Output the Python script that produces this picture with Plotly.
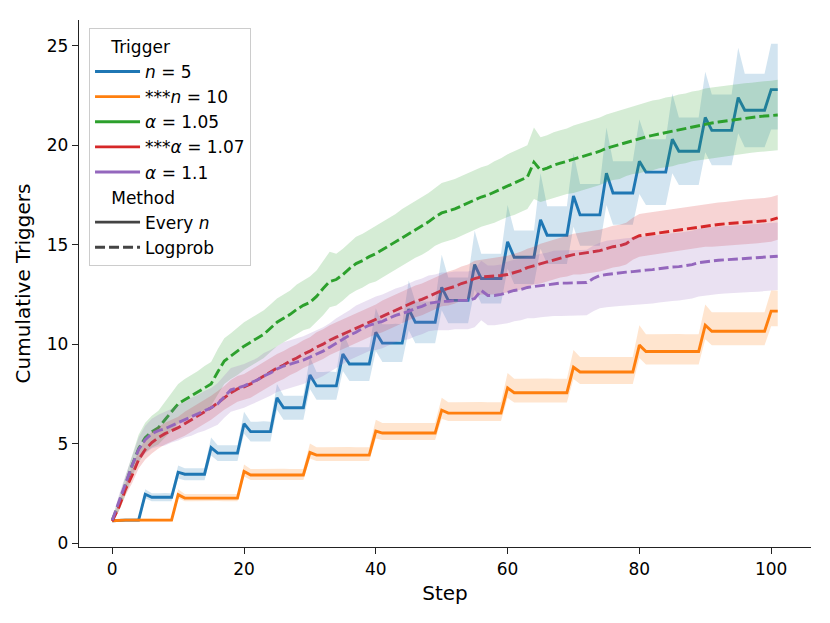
import plotly.graph_objects as go

steps = list(range(102))

# n = 5 (Every n)
n5_mean = [1.12, 1.15, 1.15, 1.15, 1.15, 2.45, 2.3, 2.3, 2.3, 2.3,
           3.56, 3.46, 3.46, 3.46, 3.46, 4.8, 4.52, 4.52, 4.52, 4.52,
           6.0, 5.6, 5.6, 5.6, 5.6, 7.3, 6.8, 6.8, 6.8, 6.8,
           8.45, 7.9, 7.9, 7.9, 7.9, 9.5, 9.0, 9.0, 9.0, 9.0,
           10.6, 10.05, 10.05, 10.05, 10.05, 11.76, 11.1, 11.1, 11.1, 11.1,
           12.86, 12.2, 12.2, 12.2, 12.2, 14.0, 13.3, 13.3, 13.3, 13.3,
           15.15, 14.37, 14.37, 14.37, 14.37, 16.25, 15.48, 15.48, 15.48, 15.48,
           17.45, 16.5, 16.5, 16.5, 16.5, 18.6, 17.6, 17.6, 17.6, 17.6,
           19.2, 18.65, 18.65, 18.65, 18.65, 20.3, 19.7, 19.7, 19.7, 19.7,
           21.4, 20.75, 20.75, 20.75, 20.75, 22.4, 21.76, 21.76, 21.76, 21.76,
           22.8, 22.8]
n5_lo = [1.08, 1.08, 1.07, 1.07, 1.07, 2.25, 2.1, 2.1, 2.1, 2.1,
         3.25, 3.16, 3.16, 3.16, 3.16, 4.4, 4.12, 4.12, 4.12, 4.12,
         5.5, 5.1, 5.1, 5.1, 5.1, 6.7, 6.2, 6.2, 6.2, 6.2,
         7.75, 7.2, 7.2, 7.2, 7.2, 8.65, 8.15, 8.15, 8.15, 8.15,
         9.65, 9.1, 9.1, 9.1, 9.1, 10.7, 10.05, 10.05, 10.05, 10.05,
         11.7, 11.05, 11.05, 11.05, 11.05, 12.75, 12.05, 12.05, 12.05, 12.05,
         13.8, 13.02, 13.02, 13.02, 13.02, 14.8, 14.03, 14.03, 14.03, 14.03,
         15.9, 14.95, 14.95, 14.95, 14.95, 17.0, 16.0, 16.0, 16.0, 16.0,
         17.55, 17.0, 17.0, 17.0, 17.0, 18.6, 18.0, 18.0, 18.0, 18.0,
         19.65, 19.0, 19.0, 19.0, 19.0, 20.6, 19.9, 19.9, 19.9, 19.9,
         20.8, 20.8]
n5_hi = [1.18, 1.22, 1.22, 1.23, 1.23, 2.7, 2.5, 2.5, 2.52, 2.5,
         3.9, 3.76, 3.77, 3.76, 3.76, 5.3, 4.92, 4.92, 4.93, 4.92,
         6.6, 6.1, 6.1, 6.12, 6.1, 8.0, 7.4, 7.4, 7.42, 7.4,
         9.35, 8.6, 8.6, 8.62, 8.6, 10.6, 9.85, 9.85, 9.86, 9.85,
         11.8, 11.0, 11.0, 11.02, 11.0, 13.2, 12.15, 12.15, 12.16, 12.15,
         14.5, 13.35, 13.35, 13.36, 13.35, 15.7, 14.55, 14.55, 14.56, 14.55,
         17.0, 15.72, 15.72, 15.73, 15.72, 18.6, 16.93, 16.93, 16.94, 16.93,
         19.6, 18.05, 18.05, 18.06, 18.05, 20.9, 19.2, 19.2, 19.21, 19.2,
         21.3, 20.3, 20.3, 20.31, 20.3, 22.6, 21.4, 21.4, 21.41, 21.4,
         23.7, 22.55, 22.55, 22.56, 22.55, 24.9, 23.6, 23.6, 23.61, 23.6,
         25.1, 25.1]

# n = 10 (Every n)
n10_mean = [1.12, 1.15, 1.15, 1.15, 1.15, 1.15, 1.15, 1.15, 1.15, 1.15,
            2.43, 2.26, 2.26, 2.26, 2.26, 2.26, 2.26, 2.26, 2.26, 2.26,
            3.6, 3.42, 3.42, 3.42, 3.42, 3.42, 3.42, 3.42, 3.42, 3.42,
            4.55, 4.42, 4.42, 4.42, 4.42, 4.42, 4.42, 4.42, 4.42, 4.42,
            5.63, 5.53, 5.53, 5.53, 5.53, 5.53, 5.53, 5.53, 5.53, 5.53,
            6.68, 6.53, 6.53, 6.53, 6.53, 6.53, 6.53, 6.53, 6.53, 6.53,
            7.8, 7.56, 7.56, 7.56, 7.56, 7.56, 7.56, 7.56, 7.56, 7.56,
            8.84, 8.6, 8.6, 8.6, 8.6, 8.6, 8.6, 8.6, 8.6, 8.6,
            9.95, 9.63, 9.63, 9.63, 9.63, 9.63, 9.63, 9.63, 9.63, 9.63,
            10.95, 10.65, 10.65, 10.65, 10.65, 10.65, 10.65, 10.65, 10.65, 10.65,
            11.66, 11.66]
n10_lo = [1.08, 1.1, 1.1, 1.09, 1.09, 1.09, 1.09, 1.09, 1.09, 1.09,
          2.25, 2.1, 2.1, 2.11, 2.1, 2.1, 2.11, 2.1, 2.1, 2.1,
          3.35, 3.17, 3.17, 3.16, 3.17, 3.17, 3.17, 3.16, 3.17, 3.17,
          4.25, 4.12, 4.12, 4.12, 4.11, 4.12, 4.12, 4.12, 4.11, 4.12,
          5.25, 5.18, 5.18, 5.18, 5.17, 5.18, 5.18, 5.18, 5.17, 5.18,
          6.25, 6.13, 6.13, 6.12, 6.13, 6.13, 6.13, 6.12, 6.13, 6.13,
          7.3, 7.06, 7.06, 7.05, 7.06, 7.06, 7.06, 7.05, 7.06, 7.06,
          8.25, 8.0, 8.0, 7.99, 8.0, 8.0, 8.0, 7.99, 8.0, 8.0,
          9.3, 8.98, 8.98, 8.97, 8.98, 8.98, 8.98, 8.97, 8.98, 8.98,
          10.25, 9.95, 9.95, 9.94, 9.95, 9.95, 9.95, 9.94, 9.95, 9.95,
          10.9, 10.9]
n10_hi = [1.16, 1.22, 1.22, 1.23, 1.22, 1.22, 1.23, 1.22, 1.22, 1.22,
          2.7, 2.46, 2.46, 2.47, 2.46, 2.46, 2.47, 2.46, 2.46, 2.46,
          3.95, 3.72, 3.72, 3.73, 3.72, 3.72, 3.73, 3.72, 3.72, 3.72,
          5.0, 4.82, 4.82, 4.83, 4.82, 4.82, 4.83, 4.82, 4.82, 4.82,
          6.2, 6.03, 6.03, 6.04, 6.03, 6.03, 6.04, 6.03, 6.03, 6.03,
          7.3, 7.08, 7.08, 7.09, 7.08, 7.08, 7.09, 7.08, 7.08, 7.08,
          8.55, 8.26, 8.26, 8.27, 8.26, 8.26, 8.27, 8.26, 8.26, 8.26,
          9.7, 9.35, 9.35, 9.36, 9.35, 9.35, 9.36, 9.35, 9.35, 9.35,
          10.95, 10.5, 10.5, 10.51, 10.5, 10.5, 10.51, 10.5, 10.5, 10.5,
          12.0, 11.6, 11.6, 11.61, 11.6, 11.6, 11.61, 11.6, 11.6, 11.6,
          12.7, 12.7]

# alpha = 1.05 (Logprob)
a105_mean = [1.15, 1.95, 2.9, 3.9, 4.75, 5.3, 5.6, 5.8, 6.2, 6.6,
             7.0, 7.2, 7.4, 7.6, 7.8, 8.0, 8.6, 9.15, 9.4, 9.65,
             9.9, 10.1, 10.3, 10.5, 10.8, 11.1, 11.3, 11.5, 11.75, 11.95,
             12.1, 12.4, 12.8, 13.15, 13.25, 13.5, 13.8, 14.05, 14.2, 14.4,
             14.55, 14.75, 14.95, 15.15, 15.35, 15.55, 15.75, 15.95, 16.15, 16.4,
             16.6, 16.7, 16.8, 16.95, 17.1, 17.25, 17.4, 17.5, 17.65, 17.8,
             17.95, 18.1, 18.25, 18.4, 19.15, 18.75, 18.85, 19.0, 19.1, 19.2,
             19.3, 19.4, 19.5, 19.6, 19.7, 19.85, 19.95, 20.05, 20.15, 20.25,
             20.35, 20.42, 20.5, 20.57, 20.64, 20.7, 20.77, 20.85, 20.92, 21.0,
             21.07, 21.12, 21.17, 21.22, 21.27, 21.32, 21.36, 21.4, 21.44, 21.47,
             21.5, 21.52]
a105_lo = [1.07, 1.6, 2.4, 3.3, 4.05, 4.55, 4.8, 4.95, 5.3, 5.65,
           6.0, 6.15, 6.35, 6.55, 6.7, 6.9, 7.45, 8.0, 8.25, 8.45,
           8.7, 8.9, 9.1, 9.3, 9.6, 9.9, 10.1, 10.3, 10.5, 10.7,
           10.8, 11.1, 11.45, 11.85, 11.95, 12.2, 12.5, 12.7, 12.85, 13.05,
           13.15, 13.35, 13.55, 13.75, 13.95, 14.15, 14.35, 14.5, 14.7, 14.95,
           15.1, 15.2, 15.3, 15.45, 15.6, 15.75, 15.9, 16.0, 16.1, 16.25,
           16.4, 16.5, 16.65, 16.8, 17.3, 17.15, 17.25, 17.35, 17.45, 17.55,
           17.6, 17.7, 17.8, 17.9, 18.0, 18.15, 18.25, 18.3, 18.45, 18.55,
           18.6, 18.7, 18.75, 18.85, 18.9, 18.95, 19.05, 19.1, 19.2, 19.25,
           19.3, 19.35, 19.4, 19.45, 19.5, 19.55, 19.6, 19.62, 19.66, 19.7,
           19.72, 19.75]
a105_hi = [1.23, 2.3, 3.4, 4.5, 5.45, 6.05, 6.4, 6.65, 7.1, 7.55,
           8.0, 8.25, 8.45, 8.65, 8.9, 9.1, 9.75, 10.3, 10.55, 10.85,
           11.1, 11.3, 11.5, 11.7, 12.0, 12.3, 12.5, 12.7, 13.0, 13.2,
           13.4, 13.7, 14.15, 14.65, 14.55, 14.8, 15.1, 15.4, 15.55, 15.75,
           15.95, 16.15, 16.35, 16.55, 16.8, 17.0, 17.2, 17.4, 17.6, 17.85,
           18.1, 18.2, 18.3, 18.45, 18.6, 18.75, 18.9, 19.0, 19.2, 19.35,
           19.55, 19.7, 19.85, 20.0, 20.9, 20.4, 20.5, 20.65, 20.75, 20.85,
           21.0, 21.1, 21.2, 21.3, 21.4, 21.55, 21.65, 21.75, 21.85, 21.95,
           22.05, 22.15, 22.25, 22.3, 22.4, 22.45, 22.55, 22.6, 22.7, 22.75,
           22.85, 22.9, 22.95, 23.0, 23.05, 23.1, 23.12, 23.15, 23.2, 23.22,
           23.25, 23.3]

# alpha = 1.07 (Logprob)
a107_mean = [1.1, 1.8, 2.7, 3.4, 4.2, 4.7, 5.05, 5.3, 5.5, 5.65,
             5.8, 6.0, 6.2, 6.4, 6.6, 6.8, 7.05, 7.3, 7.55, 7.75,
             7.85, 8.0, 8.2, 8.4, 8.6, 8.8, 8.95, 9.15, 9.3, 9.5,
             9.65, 9.85, 10.0, 10.2, 10.35, 10.5, 10.65, 10.8, 10.95, 11.1,
             11.25, 11.4, 11.55, 11.7, 11.85, 12.0, 12.15, 12.25, 12.4, 12.55,
             12.7, 12.8, 12.9, 13.05, 13.15, 13.3, 13.38, 13.4, 13.42, 13.45,
             13.5, 13.6, 13.7, 13.85, 13.95, 14.05, 14.15, 14.25, 14.35, 14.42,
             14.5, 14.55, 14.6, 14.65, 14.7, 14.8, 14.9, 14.95, 15.05, 15.3,
             15.45, 15.5, 15.55, 15.6, 15.65, 15.7, 15.75, 15.8, 15.85, 15.9,
             15.95, 16.0, 16.02, 16.05, 16.07, 16.1, 16.12, 16.15, 16.18, 16.2,
             16.25, 16.35]
a107_lo = [1.05, 1.6, 2.4, 3.0, 3.75, 4.2, 4.5, 4.75, 4.95, 5.1,
           5.25, 5.4, 5.6, 5.8, 6.0, 6.2, 6.45, 6.7, 6.9, 7.1,
           7.2, 7.3, 7.5, 7.7, 7.9, 8.1, 8.25, 8.45, 8.6, 8.8,
           8.95, 9.1, 9.25, 9.45, 9.6, 9.75, 9.9, 10.05, 10.2, 10.35,
           10.5, 10.6, 10.75, 10.9, 11.05, 11.2, 11.35, 11.45, 11.6, 11.75,
           11.9, 11.95, 12.05, 12.2, 12.3, 12.4, 12.5, 12.5, 12.5, 12.55,
           12.6, 12.65, 12.75, 12.9, 13.0, 13.05, 13.15, 13.25, 13.35, 13.4,
           13.5, 13.5, 13.55, 13.6, 13.65, 13.75, 13.85, 13.9, 14.0, 14.25,
           14.4, 14.45, 14.5, 14.55, 14.6, 14.65, 14.7, 14.75, 14.8, 14.85,
           14.9, 14.9, 14.92, 14.95, 14.97, 15.0, 15.0, 15.05, 15.08, 15.1,
           15.15, 15.25]
a107_hi = [1.15, 2.0, 3.0, 3.8, 4.65, 5.2, 5.6, 5.85, 6.05, 6.2,
           6.35, 6.6, 6.8, 7.0, 7.2, 7.4, 7.65, 7.9, 8.2, 8.4,
           8.5, 8.7, 8.9, 9.1, 9.3, 9.5, 9.65, 9.85, 10.0, 10.2,
           10.35, 10.6, 10.75, 10.95, 11.1, 11.25, 11.4, 11.55, 11.7, 11.85,
           12.0, 12.2, 12.35, 12.5, 12.65, 12.8, 12.95, 13.05, 13.2, 13.35,
           13.5, 13.65, 13.75, 13.9, 14.0, 14.2, 14.25, 14.3, 14.35, 14.4,
           14.45, 14.55, 14.65, 14.8, 14.9, 15.05, 15.15, 15.25, 15.35, 15.45,
           15.55, 15.6, 15.65, 15.7, 15.75, 15.85, 15.95, 16.0, 16.1, 16.35,
           16.55, 16.6, 16.65, 16.7, 16.75, 16.8, 16.85, 16.9, 16.95, 17.0,
           17.05, 17.1, 17.12, 17.15, 17.2, 17.25, 17.27, 17.3, 17.32, 17.35,
           17.4, 17.5]

# alpha = 1.1 (Logprob)
a11_mean = [1.15, 2.1, 3.0, 3.9, 4.7, 5.2, 5.5, 5.65, 5.75, 5.9,
            6.05, 6.2, 6.35, 6.5, 6.65, 6.8, 7.0, 7.35, 7.7, 7.8,
            7.9, 8.05, 8.2, 8.4, 8.55, 8.75, 8.9, 9.0, 9.1, 9.2,
            9.35, 9.5, 9.65, 9.85, 10.05, 10.25, 10.45, 10.6, 10.8, 10.95,
            11.05, 11.15, 11.3, 11.45, 11.55, 11.65, 11.8, 11.9, 12.05, 12.1,
            12.15, 12.15, 12.2, 12.2, 12.2, 12.3, 12.7, 12.45, 12.45, 12.5,
            12.6, 12.7, 12.75, 12.85, 12.9, 12.95, 13.0, 13.05, 13.07, 13.07,
            13.07, 13.07, 13.1, 13.3, 13.45, 13.5, 13.55, 13.6, 13.62, 13.65,
            13.7, 13.72, 13.75, 13.8, 13.85, 13.88, 13.9, 13.95, 14.0, 14.1,
            14.15, 14.2, 14.22, 14.24, 14.26, 14.28, 14.3, 14.32, 14.34, 14.36,
            14.38, 14.42]
a11_lo = [1.08, 1.8, 2.6, 3.4, 4.1, 4.5, 4.75, 4.85, 4.9, 5.05,
          5.15, 5.3, 5.4, 5.55, 5.65, 5.8, 5.95, 6.3, 6.6, 6.7,
          6.8, 6.95, 7.1, 7.25, 7.4, 7.6, 7.7, 7.8, 7.9, 8.0,
          8.15, 8.25, 8.4, 8.6, 8.8, 9.0, 9.2, 9.35, 9.5, 9.65,
          9.7, 9.8, 9.95, 10.1, 10.2, 10.25, 10.4, 10.5, 10.65, 10.7,
          10.7, 10.7, 10.75, 10.75, 10.75, 10.85, 11.2, 10.95, 10.95, 11.0,
          11.05, 11.15, 11.2, 11.3, 11.3, 11.35, 11.4, 11.42, 11.42, 11.42,
          11.42, 11.42, 11.45, 11.65, 11.8, 11.85, 11.9, 11.92, 11.95, 11.97,
          12.0, 12.02, 12.05, 12.1, 12.15, 12.17, 12.2, 12.25, 12.3, 12.4,
          12.45, 12.5, 12.52, 12.55, 12.56, 12.58, 12.6, 12.62, 12.64, 12.66,
          12.68, 12.72]
a11_hi = [1.22, 2.4, 3.4, 4.4, 5.3, 5.9, 6.25, 6.45, 6.6, 6.75,
          6.95, 7.1, 7.3, 7.45, 7.65, 7.8, 8.05, 8.4, 8.8, 8.9,
          9.0, 9.15, 9.3, 9.55, 9.7, 9.9, 10.1, 10.2, 10.3, 10.4,
          10.55, 10.7, 10.85, 11.05, 11.3, 11.5, 11.7, 11.95, 12.1, 12.25,
          12.4, 12.5, 12.65, 12.8, 12.9, 13.05, 13.2, 13.3, 13.45, 13.5,
          13.6, 13.6, 13.65, 13.65, 13.65, 13.75, 14.2, 13.95, 13.95, 14.0,
          14.15, 14.25, 14.3, 14.4, 14.45, 14.55, 14.6, 14.7, 14.72, 14.72,
          14.72, 14.72, 14.75, 14.95, 15.1, 15.2, 15.25, 15.3, 15.32, 15.35,
          15.4, 15.42, 15.45, 15.5, 15.55, 15.58, 15.6, 15.65, 15.7, 15.8,
          15.85, 15.9, 15.92, 15.94, 15.96, 15.98, 16.0, 16.02, 16.04, 16.06,
          16.08, 16.12]

x_ticks = [0, 20, 40, 60, 80, 100]
y_ticks = [0, 5, 10, 15, 20, 25]

series = [
    ("<i>n</i> = 5", "#1f77b4", "solid", n5_mean, n5_lo, n5_hi),
    ("***<i>n</i> = 10", "#ff7f0e", "solid", n10_mean, n10_lo, n10_hi),
    ("<i>α</i> = 1.05", "#2ca02c", "10px,4px", a105_mean, a105_lo, a105_hi),
    ("***<i>α</i> = 1.07", "#d62728", "10px,4px", a107_mean, a107_lo, a107_hi),
    ("<i>α</i> = 1.1", "#9467bd", "10px,4px", a11_mean, a11_lo, a11_hi),
]

for s in series:
    assert len(s[3]) == len(s[4]) == len(s[5]) == len(steps), s[0]


def hex_to_rgba(hex_color, alpha):
    h = hex_color.lstrip("#")
    r, g, b = (int(h[i:i + 2], 16) for i in (0, 2, 4))
    return "rgba(%d,%d,%d,%s)" % (r, g, b, alpha)


fig = go.Figure()

# bands + mean lines, in hue order like seaborn draws them
for name, color, dash, mean, lo, hi in series:
    fig.add_trace(go.Scatter(x=steps, y=lo, mode="lines", line=dict(width=0),
                             showlegend=False, hoverinfo="skip"))
    fig.add_trace(go.Scatter(x=steps, y=hi, mode="lines", line=dict(width=0),
                             fill="tonexty", fillcolor=hex_to_rgba(color, 0.2),
                             showlegend=False, hoverinfo="skip"))
    fig.add_trace(go.Scatter(x=steps, y=mean, mode="lines",
                             line=dict(color=color, width=2.9, dash=dash),
                             showlegend=False, name=name))

# legend entries (dummy traces), titles indented like seaborn's
trigger_title = "&nbsp;&nbsp;&nbsp;Trigger"
method_title = "&nbsp;&nbsp;&nbsp;Method"
for name, color, dash, mean, lo, hi in series:
    fig.add_trace(go.Scatter(x=[None], y=[None], mode="lines", name=name,
                             line=dict(color=color, width=2.9),
                             legendgroup="trigger",
                             legendgrouptitle=dict(text=trigger_title)))
fig.add_trace(go.Scatter(x=[None], y=[None], mode="lines", name="Every <i>n</i>",
                         line=dict(color="#444444", width=2.9),
                         legendgroup="method",
                         legendgrouptitle=dict(text=method_title)))
fig.add_trace(go.Scatter(x=[None], y=[None], mode="lines", name="Logprob",
                         line=dict(color="#444444", width=2.9, dash="10px,4px"),
                         legendgroup="method",
                         legendgrouptitle=dict(text=method_title)))

axis_style = dict(showline=True, linecolor="#222222", linewidth=1.3,
                  ticks="outside", ticklen=6, tickwidth=1.3, tickcolor="#222222",
                  showgrid=False, zeroline=False, mirror=False)

# the page body adds an 8px offset, margins compensate for it
fig.update_layout(
    width=830, height=623,
    margin=dict(l=71, r=27, t=12, b=84),
    plot_bgcolor="white", paper_bgcolor="white",
    font=dict(family="DejaVu Sans", size=17, color="black"),
    legend=dict(x=0.0137, y=0.985, xanchor="left", yanchor="top",
                bgcolor="rgba(255,255,255,0.8)", bordercolor="#cccccc",
                borderwidth=1, tracegroupgap=0, traceorder="grouped",
                itemwidth=45,
                font=dict(size=17), grouptitlefont=dict(size=17)),
)
fig.update_xaxes(range=[-5.05, 106.05], tickvals=x_ticks,
                 title=dict(text="Step", standoff=8), **axis_style)
fig.update_yaxes(range=[-0.2, 26.3], tickvals=y_ticks,
                 title=dict(text="Cumulative Triggers", standoff=10), **axis_style)

fig.write_html("out.html")
